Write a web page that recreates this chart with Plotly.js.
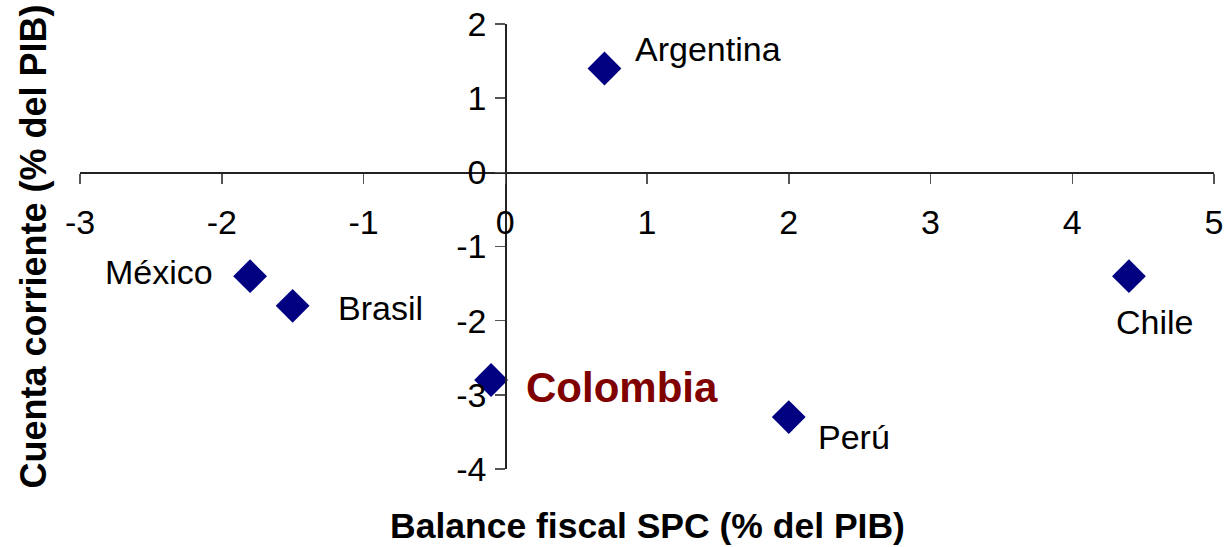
<!DOCTYPE html>
<html>
<head>
<meta charset="utf-8">
<script src="https://cdn.plot.ly/plotly-3.0.1.min.js"></script>
<style>html,body{margin:0;padding:0;background:#fff;}#chart{width:1225px;height:547px;}</style>
</head>
<body>
<div id="chart"></div>
<script>
// Data
const countries = ["Argentina", "México", "Brasil", "Colombia", "Perú", "Chile"];
const fiscalBalance = [0.7, -1.8, -1.5, -0.1, 2.0, 4.4];      // x: Balance fiscal SPC (% del PIB)
const currentAccount = [1.4, -1.4, -1.8, -2.8, -3.3, -1.4];   // y: Cuenta corriente (% del PIB)
const xTicks = [-3, -2, -1, 0, 1, 2, 3, 4, 5];
const yTicks = [-4, -3, -2, -1, 0, 1, 2];
const xTitle = "Balance fiscal SPC (% del PIB)";
const yTitle = "Cuenta corriente (% del PIB)";

// label placement styling (per label)
const labelStyle = {
  "Argentina": {xanchor: "left", xshift: 29, yshift: 20, bold: false},
  "México":    {xanchor: "right", xshift: -35, yshift: 4, bold: false},
  "Brasil":    {xanchor: "left", xshift: 43, yshift: -2, bold: false},
  "Colombia":  {xanchor: "left", xshift: 33, yshift: -7, bold: true},
  "Perú":      {xanchor: "left", xshift: 27, yshift: -20, bold: false},
  "Chile":     {xanchor: "center", xshift: 26, yshift: -46, bold: false}
};

const FONT = "Liberation Sans, Arial, sans-serif";

const labelAnnotations = countries.map((c, i) => {
  const s = labelStyle[c];
  return {
    x: fiscalBalance[i], y: currentAccount[i], xref: "x", yref: "y",
    text: s.bold ? "<b>" + c + "</b>" : c,
    showarrow: false,
    xanchor: s.xanchor, yanchor: "middle",
    xshift: s.xshift, yshift: s.yshift,
    font: s.bold ? {family: FONT, size: 42, color: "#800000"} : {family: FONT, size: 34, color: "#000"}
  };
});

const titleAnnotations = [
  {xref: "paper", yref: "paper", x: 0.5, y: 0, yshift: -57, xanchor: "center", yanchor: "middle",
   text: "<b>" + xTitle + "</b>", showarrow: false, font: {family: FONT, size: 35.5, color: "#000"}},
  {xref: "paper", yref: "paper", x: 0, y: 0.5, xshift: -47, xanchor: "center", yanchor: "middle",
   textangle: -90, text: "<b>" + yTitle + "</b>", showarrow: false, font: {family: FONT, size: 36, color: "#000"}}
];

const trace = {
  type: "scatter", mode: "markers",
  x: fiscalBalance, y: currentAccount,
  marker: {symbol: "diamond", size: 26, color: "#000080", line: {width: 0}},
  hoverinfo: "skip"
};

const layout = {
  width: 1225, height: 547,
  margin: {l: 80, r: 11, t: 24, b: 78},
  paper_bgcolor: "#fff", plot_bgcolor: "#fff",
  showlegend: false,
  hovermode: false,
  xaxis: {
    range: [-3, 5], tickvals: xTicks, ticktext: xTicks.map(String),
    anchor: "free", position: 4/6,
    showline: true, linecolor: "#222", linewidth: 1.5,
    ticks: "outside", ticklen: 10, tickcolor: "#555", tickwidth: 1.5,
    showgrid: false, zeroline: false,
    ticklabelstandoff: 9,
    tickfont: {family: FONT, size: 34, color: "#000"}
  },
  yaxis: {
    range: [-4, 2], tickvals: yTicks, ticktext: yTicks.map(String),
    anchor: "free", position: 3/8,
    showline: true, linecolor: "#222", linewidth: 1.5,
    ticks: "outside", ticklen: 10, tickcolor: "#555", tickwidth: 1.5,
    showgrid: false, zeroline: false,
    ticklabelstandoff: 2,
    tickfont: {family: FONT, size: 34, color: "#000"}
  },
  annotations: labelAnnotations.concat(titleAnnotations)
};

Plotly.newPlot("chart", [trace], layout, {staticPlot: true, displayModeBar: false});
</script>
</body>
</html>
